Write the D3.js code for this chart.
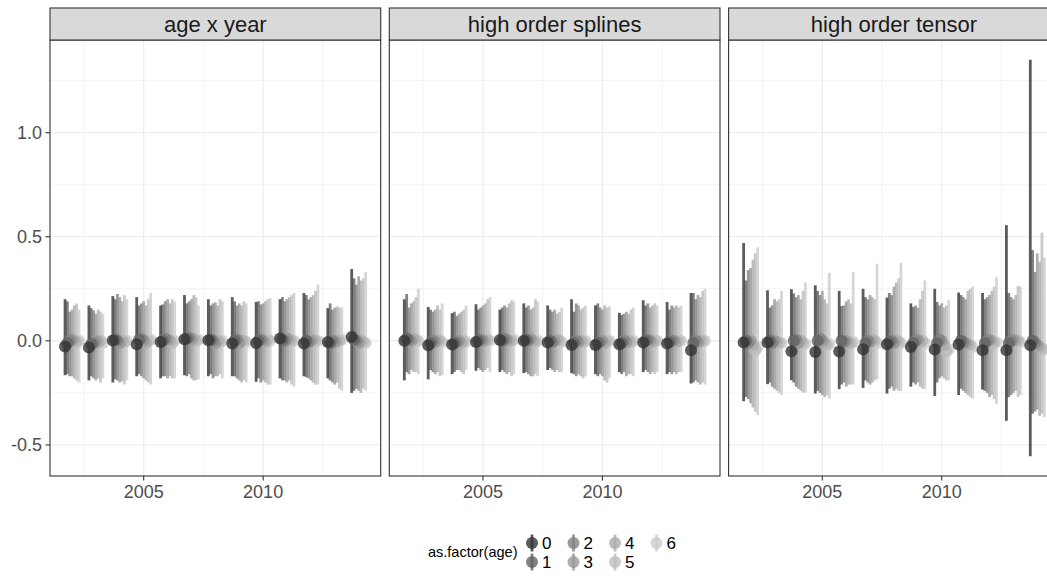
<!DOCTYPE html>
<html>
<head>
<meta charset="utf-8">
<script src="https://cdn.jsdelivr.net/npm/d3@7"></script>
<style>
    body { margin: 0; background: #fff; }
    svg { display: block; font-family: "Liberation Sans", Arial, sans-serif; }
</style>
</head>
<body>
<svg id="chart" width="1047" height="580"></svg>
<script>
const years = [2002, 2003, 2004, 2005, 2006, 2007, 2008, 2009, 2010, 2011, 2012, 2013, 2014];
const ages = [0, 1, 2, 3, 4, 5, 6];
const models = ["age x year", "high order splines", "high order tensor"];
const ageColors = ["#333333", "#636363", "#818181", "#989898", "#acacac", "#bdbdbd", "#cccccc"];
const xTicks = [2005, 2010];
const xMinor = [2002.5, 2007.5, 2012.5];
const yTicks = [-0.5, 0, 0.5, 1.0];
const yMinor = [-0.25, 0.25, 0.75, 1.25];

// rows = years 2002..2014, columns = ages 0..6
const estAgeYear = [
    [-0.027, -0.01, 0.0, 0.005, 0.0, -0.005, 0.0],
    [-0.032, -0.015, -0.01, 0.0, -0.005, 0.0, -0.01],
    [0.002, 0.005, 0.0, -0.01, 0.0, -0.005, 0.0],
    [-0.016, 0.005, 0.01, 0.0, -0.01, 0.0, 0.005],
    [-0.005, 0.0, 0.01, 0.005, 0.0, -0.01, 0.0],
    [0.008, 0.01, 0.015, 0.005, 0.01, 0.0, 0.005],
    [0.003, 0.005, 0.0, -0.01, 0.0, -0.005, 0.0],
    [-0.013, 0.0, 0.005, -0.01, 0.0, 0.0, -0.005],
    [-0.01, 0.0, 0.005, 0.0, -0.005, 0.005, 0.0],
    [0.011, 0.005, 0.0, 0.01, 0.005, 0.0, 0.0],
    [-0.013, 0.0, -0.005, 0.0, 0.005, 0.0, 0.0],
    [-0.005, -0.01, 0.0, -0.005, 0.0, 0.0, 0.005],
    [0.019, 0.005, 0.0, -0.01, 0.0, -0.005, -0.01]
];
const loAgeYear = [
    [-0.165, -0.16, -0.17, -0.17, -0.18, -0.19, -0.2],
    [-0.19, -0.17, -0.18, -0.19, -0.18, -0.2, -0.18],
    [-0.2, -0.185, -0.19, -0.2, -0.195, -0.21, -0.19],
    [-0.17, -0.16, -0.17, -0.18, -0.19, -0.2, -0.21],
    [-0.18, -0.17, -0.17, -0.18, -0.17, -0.18, -0.18],
    [-0.165, -0.17, -0.16, -0.18, -0.19, -0.19, -0.185],
    [-0.17, -0.16, -0.18, -0.17, -0.17, -0.16, -0.18],
    [-0.17, -0.17, -0.18, -0.19, -0.2, -0.19, -0.2],
    [-0.197, -0.18, -0.2, -0.19, -0.2, -0.21, -0.21],
    [-0.18, -0.19, -0.19, -0.2, -0.19, -0.21, -0.22],
    [-0.17, -0.175, -0.18, -0.19, -0.2, -0.21, -0.21],
    [-0.18, -0.19, -0.2, -0.21, -0.2, -0.23, -0.24],
    [-0.25, -0.24, -0.23, -0.24, -0.25, -0.23, -0.24]
];
const hiAgeYear = [
    [0.2, 0.19, 0.14, 0.15, 0.17, 0.18, 0.15],
    [0.17, 0.157, 0.147, 0.13, 0.15, 0.14, 0.13],
    [0.215, 0.2, 0.225, 0.21, 0.19, 0.22, 0.2],
    [0.21, 0.17, 0.18, 0.19, 0.17, 0.2, 0.23],
    [0.17, 0.175, 0.19, 0.2, 0.18, 0.2, 0.19],
    [0.22, 0.18, 0.19, 0.2, 0.22, 0.21, 0.17],
    [0.2, 0.17, 0.18, 0.185, 0.17, 0.2, 0.19],
    [0.21, 0.19, 0.17, 0.18, 0.17, 0.19, 0.18],
    [0.187, 0.19, 0.175, 0.18, 0.19, 0.2, 0.205],
    [0.2, 0.21, 0.19, 0.2, 0.21, 0.22, 0.23],
    [0.23, 0.22, 0.2, 0.21, 0.22, 0.24, 0.27],
    [0.157, 0.18, 0.15, 0.16, 0.165, 0.16, 0.16],
    [0.345, 0.3, 0.27, 0.31, 0.29, 0.3, 0.33]
];

const estSplines = [
    [0.0, 0.01, 0.005, 0.0, 0.01, 0.0, 0.0],
    [-0.021, -0.01, 0.0, -0.005, 0.0, 0.0, -0.005],
    [-0.018, -0.01, -0.005, 0.0, -0.01, 0.0, -0.005],
    [-0.006, 0.0, 0.005, 0.0, 0.0, 0.005, 0.0],
    [0.004, 0.0, 0.01, 0.005, 0.0, 0.0, 0.005],
    [0.0, 0.005, 0.0, 0.01, 0.0, -0.005, 0.0],
    [-0.008, 0.0, -0.005, 0.0, 0.005, 0.0, -0.005],
    [-0.02, -0.01, 0.0, -0.005, 0.0, -0.005, 0.0],
    [-0.02, -0.01, -0.005, 0.0, -0.01, 0.0, 0.0],
    [-0.016, -0.01, 0.0, -0.005, 0.0, -0.005, 0.0],
    [-0.008, 0.0, 0.005, 0.0, -0.005, 0.0, 0.0],
    [-0.013, -0.005, 0.0, 0.0, -0.005, 0.0, 0.0],
    [-0.045, -0.01, 0.0, -0.005, 0.0, 0.0, 0.0]
];
const loSplines = [
    [-0.19, -0.15, -0.16, -0.14, -0.15, -0.15, -0.16],
    [-0.185, -0.14, -0.15, -0.16, -0.15, -0.17, -0.165],
    [-0.16, -0.15, -0.14, -0.14, -0.15, -0.16, -0.14],
    [-0.144, -0.13, -0.14, -0.15, -0.14, -0.13, -0.15],
    [-0.15, -0.14, -0.15, -0.16, -0.15, -0.17, -0.16],
    [-0.155, -0.15, -0.16, -0.17, -0.17, -0.16, -0.17],
    [-0.14, -0.13, -0.14, -0.15, -0.14, -0.15, -0.15],
    [-0.155, -0.16, -0.17, -0.16, -0.17, -0.18, -0.17],
    [-0.16, -0.17, -0.16, -0.17, -0.19, -0.2, -0.18],
    [-0.15, -0.16, -0.15, -0.17, -0.16, -0.16, -0.17],
    [-0.15, -0.14, -0.15, -0.16, -0.15, -0.16, -0.15],
    [-0.16, -0.15, -0.16, -0.15, -0.16, -0.15, -0.15],
    [-0.205, -0.2, -0.19, -0.2, -0.21, -0.2, -0.21]
];
const hiSplines = [
    [0.2, 0.225, 0.16, 0.18, 0.19, 0.21, 0.25],
    [0.163, 0.15, 0.14, 0.15, 0.17, 0.15, 0.18],
    [0.133, 0.14, 0.12, 0.13, 0.14, 0.15, 0.17],
    [0.176, 0.15, 0.16, 0.17, 0.18, 0.2, 0.21],
    [0.15, 0.16, 0.17, 0.16, 0.18, 0.195, 0.19],
    [0.18, 0.16, 0.17, 0.15, 0.16, 0.2, 0.19],
    [0.17, 0.15, 0.14, 0.15, 0.13, 0.14, 0.16],
    [0.2, 0.14, 0.18, 0.17, 0.15, 0.16, 0.17],
    [0.17, 0.18, 0.16, 0.15, 0.17, 0.16, 0.166],
    [0.135, 0.125, 0.13, 0.14, 0.13, 0.15, 0.16],
    [0.195, 0.17, 0.18, 0.16, 0.17, 0.18, 0.17],
    [0.187, 0.15, 0.17, 0.16, 0.17, 0.16, 0.17],
    [0.23, 0.23, 0.2, 0.22, 0.21, 0.24, 0.25]
];

const estTensor = [
    [-0.008, 0.0, -0.01, 0.0, -0.02, -0.045, -0.03],
    [-0.008, 0.0, -0.01, 0.0, -0.005, -0.01, -0.01],
    [-0.05, 0.0, 0.005, -0.01, 0.0, -0.01, -0.015],
    [-0.054, 0.0, 0.01, 0.0, -0.01, -0.02, -0.015],
    [-0.051, 0.0, -0.005, 0.0, -0.01, -0.01, -0.005],
    [-0.04, -0.01, 0.0, -0.005, 0.005, 0.0, -0.01],
    [-0.016, -0.005, 0.0, -0.01, 0.0, -0.005, -0.01],
    [-0.029, -0.01, 0.0, 0.005, -0.005, 0.0, -0.01],
    [-0.041, -0.01, 0.005, 0.0, -0.02, -0.05, -0.04],
    [-0.017, 0.0, -0.005, -0.01, -0.02, -0.02, -0.03],
    [-0.045, -0.01, 0.0, 0.005, 0.0, -0.01, -0.005],
    [-0.045, -0.01, 0.0, 0.005, 0.0, 0.0, -0.005],
    [-0.021, 0.0, -0.01, -0.02, -0.03, -0.04, -0.04]
];
const loTensor = [
    [-0.29, -0.27, -0.28, -0.3, -0.32, -0.34, -0.357],
    [-0.208, -0.2, -0.22, -0.23, -0.24, -0.25, -0.26],
    [-0.189, -0.2, -0.22, -0.23, -0.24, -0.25, -0.248],
    [-0.253, -0.24, -0.25, -0.26, -0.27, -0.26, -0.277],
    [-0.232, -0.21, -0.2, -0.22, -0.21, -0.21, -0.21],
    [-0.226, -0.19, -0.2, -0.21, -0.2, -0.19, -0.185],
    [-0.253, -0.23, -0.22, -0.24, -0.23, -0.24, -0.24],
    [-0.22, -0.2, -0.21, -0.2, -0.22, -0.23, -0.232],
    [-0.265, -0.2, -0.18, -0.17, -0.18, -0.19, -0.19],
    [-0.26, -0.23, -0.24, -0.25, -0.26, -0.27, -0.277],
    [-0.234, -0.24, -0.25, -0.27, -0.26, -0.28, -0.304],
    [-0.384, -0.27, -0.26, -0.25, -0.24, -0.27, -0.26],
    [-0.554, -0.35, -0.34, -0.33, -0.36, -0.35, -0.367]
];
const hiTensor = [
    [0.47, 0.29, 0.34, 0.35, 0.39, 0.42, 0.45],
    [0.243, 0.16, 0.17, 0.2, 0.19, 0.2, 0.24],
    [0.248, 0.228, 0.21, 0.22, 0.2, 0.24, 0.28],
    [0.267, 0.24, 0.22, 0.24, 0.2, 0.18, 0.327],
    [0.24, 0.167, 0.17, 0.19, 0.2, 0.18, 0.33],
    [0.25, 0.21, 0.2, 0.22, 0.21, 0.2, 0.37],
    [0.208, 0.23, 0.22, 0.26, 0.28, 0.3, 0.375],
    [0.18, 0.163, 0.17, 0.16, 0.2, 0.24, 0.29],
    [0.25, 0.187, 0.17, 0.18, 0.16, 0.17, 0.195],
    [0.232, 0.22, 0.21, 0.2, 0.24, 0.25, 0.26],
    [0.23, 0.2, 0.21, 0.22, 0.24, 0.26, 0.305],
    [0.556, 0.23, 0.21, 0.2, 0.22, 0.263, 0.26],
    [1.35, 0.436, 0.33, 0.42, 0.38, 0.52, 0.4]
];

const svg = d3.select("#chart");

function buildTable() {
    const sets = [
        [estAgeYear, loAgeYear, hiAgeYear],
        [estSplines, loSplines, hiSplines],
        [estTensor, loTensor, hiTensor]
    ];
    const rows = [];
    models.forEach((model, m) => {
        const [est, lo, hi] = sets[m];
        years.forEach((year, i) => {
            ages.forEach((age, a) => {
                rows.push({ model, year, age, est: est[i][a], lo: lo[i][a], hi: hi[i][a] });
            });
        });
    });
    return rows;
}

function drawChart() {
    const data = buildTable();

    const dodge = 0.0975; // years between neighbouring ages
    const xOf = d => d.year + (d.age - 3) * dodge;

    const margin = { left: 50, top: 40, strip: 32 };
    const panelW = 330.7;
    const gap = 8.6;
    const panelH = 436;

    // ggplot-style 5% expansion
    const xExt = d3.extent(data, xOf);
    const xPad = (xExt[1] - xExt[0]) * 0.05;
    const x = d3.scaleLinear()
        .domain([xExt[0] - xPad, xExt[1] + xPad])
        .range([0, panelW]);

    const yMin = d3.min(data, d => d.lo);
    const yMax = d3.max(data, d => d.hi);
    const yPad = (yMax - yMin) * 0.05;
    const y = d3.scaleLinear()
        .domain([yMin - yPad, yMax + yPad])
        .range([panelH, 0]);

    const color = d3.scaleOrdinal().domain(ages).range(ageColors);
    const fmtY = d => d3.format(".1f")(d).replace("\u2212", "-");

    models.forEach((model, m) => {
        const left = margin.left + m * (panelW + gap);
        const g = svg.append("g").attr("transform", `translate(${left},${margin.top})`);
        const rows = data.filter(d => d.model === model);

        g.append("rect")
            .attr("width", panelW)
            .attr("height", panelH)
            .attr("fill", "#fff");

        // minor grid
        g.selectAll(".vminor").data(xMinor).enter().append("line")
            .attr("x1", d => x(d)).attr("x2", d => x(d))
            .attr("y1", 0).attr("y2", panelH)
            .attr("stroke", "#ebebeb").attr("stroke-width", 0.6);
        g.selectAll(".hminor").data(yMinor).enter().append("line")
            .attr("y1", d => y(d)).attr("y2", d => y(d))
            .attr("x1", 0).attr("x2", panelW)
            .attr("stroke", "#ebebeb").attr("stroke-width", 0.6);
        // major grid
        g.selectAll(".vmajor").data(xTicks).enter().append("line")
            .attr("x1", d => x(d)).attr("x2", d => x(d))
            .attr("y1", 0).attr("y2", panelH)
            .attr("stroke", "#ebebeb").attr("stroke-width", 1.1);
        g.selectAll(".hmajor").data(yTicks).enter().append("line")
            .attr("y1", d => y(d)).attr("y2", d => y(d))
            .attr("x1", 0).attr("x2", panelW)
            .attr("stroke", "#ebebeb").attr("stroke-width", 1.1);

        // ranges first, then points (age 0 on top)
        const ordered = rows.slice().sort((a, b) => b.age - a.age);
        g.selectAll(".range").data(ordered).enter().append("line")
            .attr("x1", d => x(xOf(d))).attr("x2", d => x(xOf(d)))
            .attr("y1", d => y(d.lo)).attr("y2", d => y(d.hi))
            .attr("stroke", d => color(d.age))
            .attr("stroke-opacity", 0.8)
            .attr("stroke-width", 2.8);

        g.selectAll(".pt").data(ordered).enter().append("circle")
            .attr("cx", d => x(xOf(d)))
            .attr("cy", d => y(d.est))
            .attr("r", 6)
            .attr("fill", d => color(d.age))
            .attr("fill-opacity", 0.8);

        // x axis ticks + labels
        const xa = g.append("g").attr("transform", `translate(0,${panelH})`);
        xa.selectAll("line").data(xTicks).enter().append("line")
            .attr("x1", d => x(d)).attr("x2", d => x(d))
            .attr("y1", 0).attr("y2", 4.5)
            .attr("stroke", "#333").attr("stroke-width", 1.1);
        xa.selectAll("text").data(xTicks).enter().append("text")
            .attr("x", d => x(d))
            .attr("y", 22)
            .attr("text-anchor", "middle")
            .attr("font-size", "18px")
            .attr("fill", "#4d4d4d")
            .text(d => d);

        if (m === 0) {
            const ya = g.append("g");
            ya.selectAll("line").data(yTicks).enter().append("line")
                .attr("x1", -4.5).attr("x2", 0)
                .attr("y1", d => y(d)).attr("y2", d => y(d))
                .attr("stroke", "#333").attr("stroke-width", 1.1);
            ya.selectAll("text").data(yTicks).enter().append("text")
                .attr("x", -8)
                .attr("y", d => y(d))
                .attr("dy", "0.35em")
                .attr("text-anchor", "end")
                .attr("font-size", "18px")
                .attr("fill", "#4d4d4d")
                .text(fmtY);
        }

        // panel border
        g.append("rect")
            .attr("width", panelW)
            .attr("height", panelH)
            .attr("fill", "none")
            .attr("stroke", "#333")
            .attr("stroke-width", 1.1);

        // strip
        g.append("rect")
            .attr("y", -margin.strip)
            .attr("width", panelW)
            .attr("height", margin.strip)
            .attr("fill", "#d9d9d9")
            .attr("stroke", "#333")
            .attr("stroke-width", 1.1);
        g.append("text")
            .attr("x", panelW / 2)
            .attr("y", -margin.strip / 2)
            .attr("dy", "0.35em")
            .attr("text-anchor", "middle")
            .attr("font-size", "22px")
            .attr("fill", "#1a1a1a")
            .text(model);
    });

    // legend
    const legend = svg.append("g");
    legend.append("text")
        .attr("x", 428)
        .attr("y", 552)
        .attr("dy", "0.35em")
        .attr("font-size", "14.5px")
        .attr("fill", "#000")
        .text("as.factor(age)");

    const keyX = d3.scalePoint().domain([0, 1, 2, 3]).range([532, 656.5]);
    const keyY = d3.scalePoint().domain([0, 1]).range([543, 562]);

    const keys = legend.selectAll(".key").data(ages).enter().append("g")
        .attr("transform", d => `translate(${keyX(Math.floor(d / 2))},${keyY(d % 2)})`);
    keys.append("line")
        .attr("y1", -8.5).attr("y2", 8.5)
        .attr("stroke", d => color(d))
        .attr("stroke-opacity", 0.8)
        .attr("stroke-width", 2.8);
    keys.append("circle")
        .attr("r", 6)
        .attr("fill", d => color(d))
        .attr("fill-opacity", 0.8);
    keys.append("text")
        .attr("x", 10)
        .attr("dy", "0.36em")
        .attr("font-size", "17px")
        .attr("fill", "#000")
        .text(d => d);
}

drawChart();
</script>
</body>
</html>
